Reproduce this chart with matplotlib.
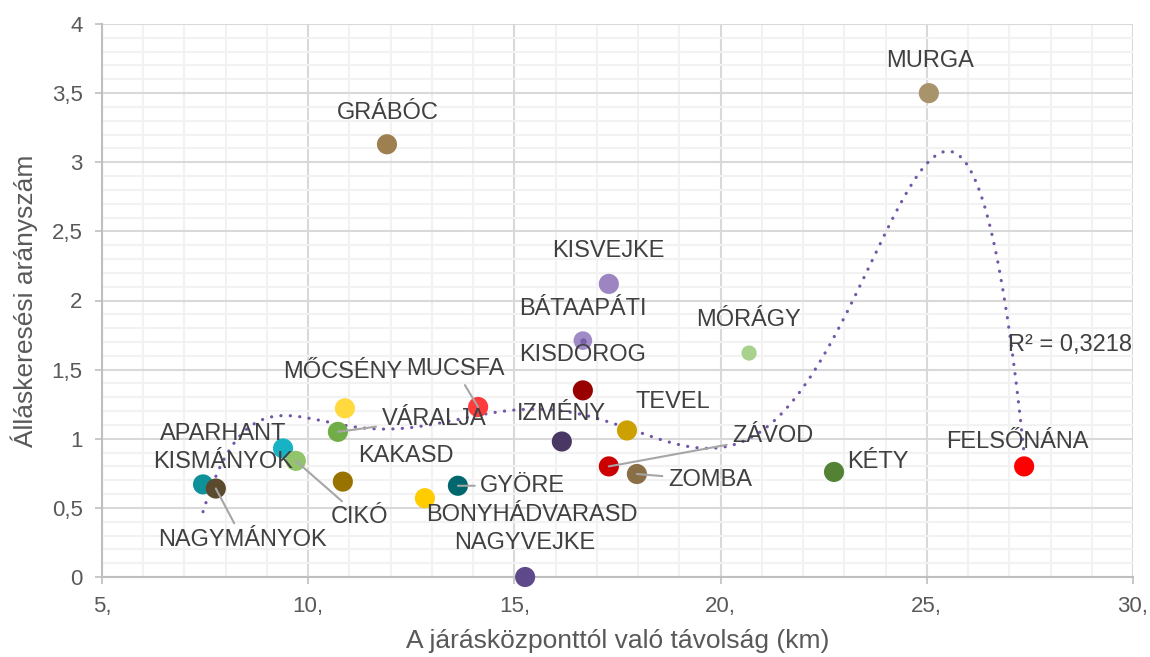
import numpy as np
import matplotlib
matplotlib.use("Agg")
import matplotlib.pyplot as plt
from matplotlib.ticker import MultipleLocator, FuncFormatter

plt.rcParams['font.family'] = ['Liberation Sans', 'DejaVu Sans']

# települések: távolság a járásközponttól (km) és álláskeresési arányszám
names = ['MURGA', 'GRÁBÓC', 'KISVEJKE', 'BÁTAAPÁTI', 'MÓRÁGY', 'KISDOROG',
         'MUCSFA', 'MŐCSÉNY', 'VÁRALJA', 'TEVEL', 'IZMÉNY', 'APARHANT',
         'KISMÁNYOK', 'CIKÓ', 'KAKASD', 'NAGYMÁNYOK', 'GYÖRE', 'BONYHÁDVARASD',
         'NAGYVEJKE', 'ZÁVOD', 'ZOMBA', 'KÉTY', 'FELSŐNÁNA']
dist = [25.05, 11.91, 17.29, 16.66, 20.69, 16.66,
        14.12, 10.89, 10.72, 17.73, 16.15, 9.39,
        7.45, 9.70, 10.84, 7.76, 13.63, 12.83,
        15.26, 17.29, 17.97, 22.75, 27.36]
ratio = [3.50, 3.13, 2.12, 1.71, 1.62, 1.35,
         1.23, 1.22, 1.05, 1.06, 0.98, 0.93,
         0.67, 0.84, 0.69, 0.64, 0.66, 0.57,
         0.00, 0.80, 0.745, 0.76, 0.80]

colors = ['#A8936B', '#9E8050', '#9C85C0', '#A08BC6', '#A9D18E', '#990000',
          '#FF3B3B', '#FFD93D', '#70AD47', '#CCA000', '#483863', '#17B3C4',
          '#0E9199', '#92C46C', '#997300', '#5C4A2E', '#00676E', '#FFCC00',
          '#5E4A8A', '#CC0000', '#8A6E45', '#548235', '#FF0000']

# címkék eltolása pixelben (dx, dy) és hogy kell-e vezetővonal
label_pos = {
    'MURGA': (1, 32, False), 'GRÁBÓC': (1, 31, False), 'KISVEJKE': (0, 33, False),
    'BÁTAAPÁTI': (0, 32, False), 'MÓRÁGY': (-1, 33, False), 'KISDOROG': (0, 35, False),
    'MUCSFA': (-23, 38, True), 'MŐCSÉNY': (-2, 36, False), 'VÁRALJA': (96, 13, True),
    'TEVEL': (46, 28, False), 'IZMÉNY': (0, 28, False), 'APARHANT': (-60, 14, False),
    'KISMÁNYOK': (20, 22, False), 'CIKÓ': (64, -56, True), 'KAKASD': (63, 26, False),
    'NAGYMÁNYOK': (27, -51, True), 'GYÖRE': (65, 0, True), 'BONYHÁDVARASD': (107, -17, False),
    'NAGYVEJKE': (0, 34, False), 'ZÁVOD': (164, 30, True), 'ZOMBA': (73, -6, True),
    'KÉTY': (44, 10, False), 'FELSŐNÁNA': (-7, 24, False),
}

r2_text = 'R² = 0,3218'

fig = plt.figure(figsize=(11.5, 6.57), dpi=100)
ax = fig.add_axes([102 / 1150, 80 / 657, 1031 / 1150, 553 / 657])

ax.set_xlim(5, 30)
ax.set_ylim(0, 4)
ax.xaxis.set_major_locator(MultipleLocator(5))
ax.xaxis.set_minor_locator(MultipleLocator(1))
ax.yaxis.set_major_locator(MultipleLocator(0.5))
ax.yaxis.set_minor_locator(MultipleLocator(0.1))
ax.xaxis.set_major_formatter(FuncFormatter(lambda v, p: '%g,' % v))
ax.yaxis.set_major_formatter(FuncFormatter(lambda v, p: ('%g' % v).replace('.', ',')))

ax.grid(which='major', color='#D9D9D9', lw=1.5)
ax.grid(which='minor', color='#F2F2F2', lw=1.5)
ax.set_axisbelow(True)
for s in ['top', 'right']:
    ax.spines[s].set_visible(False)
for s in ['left', 'bottom']:
    ax.spines[s].set_color('#BFBFBF')
    ax.spines[s].set_linewidth(1.5)
ax.tick_params(which='major', length=5, width=1.2, color='#BFBFBF',
               labelsize=16, labelcolor='#595959', pad=9)
ax.tick_params(which='minor', length=0)

x = np.array(dist)
y = np.array(ratio)

# hatodfokú polinomiális trendvonal
coef = np.polyfit(x, y, 6)
xs = np.linspace(x.min(), x.max(), 400)
ax.plot(xs, np.polyval(coef, xs), color='#7356A8', lw=2.3,
        linestyle=(0, (0.05, 2.9)), dash_capstyle='round', zorder=2)

sizes = [210] * len(names)
sizes[names.index('MÓRÁGY')] = 120
sizes[names.index('BÁTAAPÁTI')] = 180
ax.scatter(x, y, s=sizes, c=colors, zorder=3, linewidths=0, clip_on=False)
i = names.index('BÁTAAPÁTI')
ax.scatter([x[i]], [y[i]], s=22, c='#7B5FA8', zorder=4, linewidths=0)

for n, xv, yv in zip(names, dist, ratio):
    dx, dy, lead = label_pos[n]
    kw = {}
    if lead:
        kw['arrowprops'] = dict(arrowstyle='-', color='#A6A6A6', lw=1.5,
                                shrinkA=2, shrinkB=0)
    ax.annotate(n, (xv, yv), xytext=(dx, dy), textcoords='offset pixels',
                ha='center', va='center', fontsize=17, color='#404040',
                zorder=5, **kw)

ax.annotate(r2_text, (1070 / 1150, 1 - 345 / 657), xycoords='figure fraction',
            ha='center', va='center', fontsize=17, color='#404040')

ax.set_xlabel('A járásközponttól való távolság (km)', fontsize=19,
              color='#595959', labelpad=8)
ax.set_ylabel('Álláskeresési arányszám', fontsize=19, color='#595959', labelpad=10)

fig.savefig('out.png', dpi=100, facecolor='white')
